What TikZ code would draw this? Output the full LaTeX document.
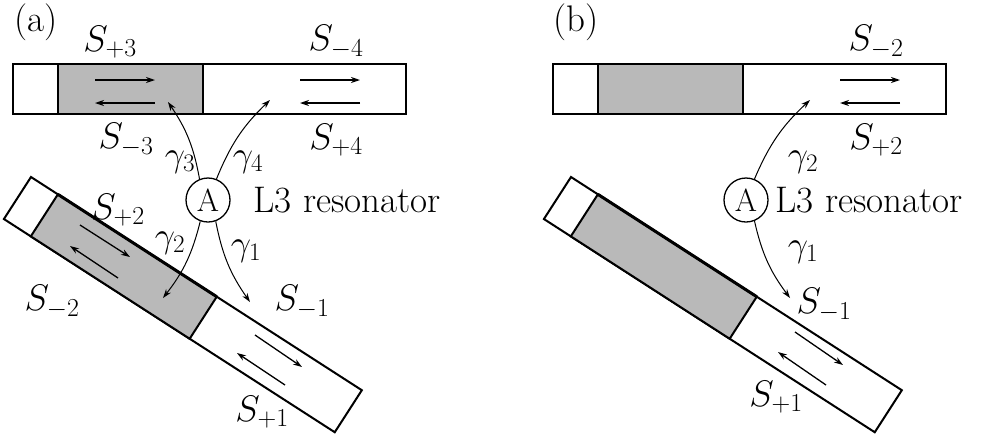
\RequirePackage{fix-cm}
\documentclass[tikz,border=0pt]{standalone}
\usepackage{fontspec}
\usetikzlibrary{arrows.meta}
\begin{document}
\begin{tikzpicture}[x=1pt,y=1pt,
 wg/.style={draw,line width=2pt,fill=white},
 gr/.style={draw,line width=2pt,fill=gray!55},
 sa/.style={line width=1.3pt,-{Stealth[length=9pt,width=6pt]}},
 ca/.style={line width=1pt,-{Stealth[length=9pt,width=6pt]}},
 lab/.style={font=\fontsize{37}{40}\selectfont},
 gl/.style={font=\fontsize{36}{38}\selectfont},
 res/.style={circle,draw,line width=1.3pt,minimum size=44pt,inner sep=0pt,font=\fontsize{32}{34}\selectfont},
 txt/.style={font=\fontsize{37}{40}\selectfont,anchor=west}]
\useasboundingbox (0,0) rectangle (984,-440);
\foreach \o/\p in {0/a,540/b}{
 \begin{scope}[xshift=\o]
 \draw[wg] (13,-64) rectangle (406,-114);
 \draw[gr] (58,-64) rectangle (203,-114);
 \begin{scope}[shift={(31,-177)},rotate=-32.8]
  \draw[wg] (0,0) rectangle (393.6,-50);
  \draw[gr] (32,0) rectangle (221,-50);
  \draw[line width=3pt] (32,0)--(221,0);
 \end{scope}
 \node[lab] at (36,-22) {(\p)};
 \end{scope}}
% panel a
\node[res] (A) at (208,-200) {A};
\node[txt] (L) at (250,-200) {L3 resonator};
\draw[sa] (95,-80)--(155,-80);
\draw[sa] (155,-103)--(95,-103);
\draw[sa] (300,-80)--(360,-80);
\draw[sa] (360,-103)--(300,-103);
\draw[sa] (80,-225)--(130,-257);
\draw[sa] (118,-278)--(70,-246);
\draw[sa] (255,-335)--(302,-367);
\draw[sa] (285,-385)--(237,-353);
\coordinate (t3) at (168,-102);
\coordinate (t4) at (270,-100);
\coordinate (t2) at (163,-298);
\coordinate (t1) at (250,-302);
\draw[ca] (A.112) to[bend right=12] (t3);
\draw[ca] (A.68) to[bend left=12] (t4);
\draw[ca] (A.250) to[bend left=12] (t2);
\draw[ca] (A.290) to[bend right=12] (t1);
\node[lab] at (110,-42) {$S_{+3}$};
\node[lab] at (336,-42) {$S_{-4}$};
\node[lab] at (126,-140) {$S_{-3}$};
\node[lab] at (336,-140) {$S_{+4}$};
\node[gl] at (180,-162) {$\gamma_3$};
\node[gl] at (248,-162) {$\gamma_4$};
\node[lab] at (118,-210) {$S_{+2}$};
\node[gl] at (170,-243) {$\gamma_2$};
\node[gl] at (246,-251) {$\gamma_1$};
\node[lab] at (52,-302) {$S_{-2}$};
\node[lab] at (302,-302) {$S_{-1}$};
\node[lab] at (262,-412) {$S_{+1}$};
% panel b
\node[res] (B) at (746,-200) {A};
\node[txt] (L2) at (772,-200) {L3 resonator};
\draw[sa] (840,-80)--(900,-80);
\draw[sa] (900,-103)--(840,-103);
\draw[sa] (795,-332)--(843,-365);
\draw[sa] (826,-385)--(778,-352);
\coordinate (u2) at (810,-100);
\coordinate (u1) at (790,-298);
\draw[ca] (B.68) to[bend left=12] (u2);
\draw[ca] (B.292) to[bend right=12] (u1);
\node[lab] at (876,-42) {$S_{-2}$};
\node[lab] at (876,-140) {$S_{+2}$};
\node[gl] at (803,-162) {$\gamma_2$};
\node[gl] at (803,-252) {$\gamma_1$};
\node[lab] at (824,-305) {$S_{-1}$};
\node[lab] at (776,-397) {$S_{+1}$};
\end{tikzpicture}
\end{document}
